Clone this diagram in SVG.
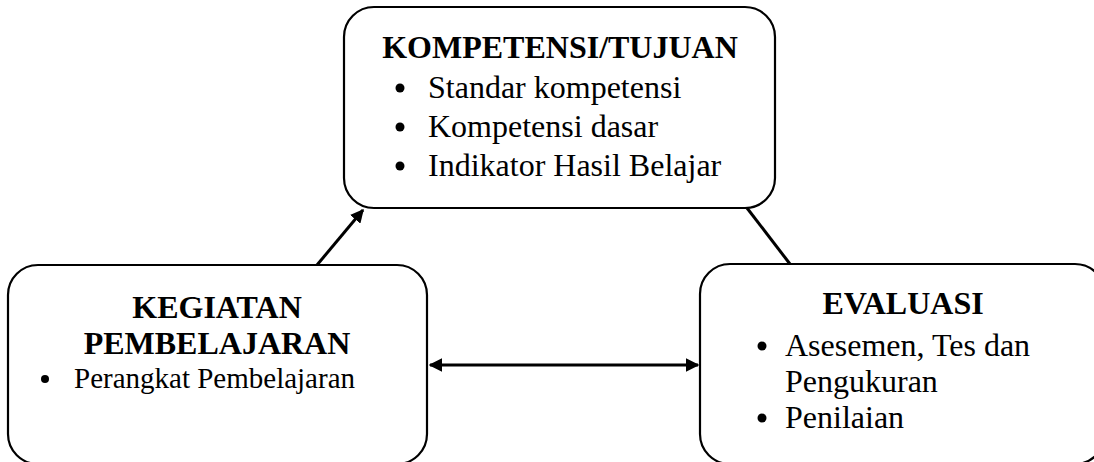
<svg xmlns="http://www.w3.org/2000/svg" width="1094" height="462" viewBox="0 0 1094 462">
<style>
.box{fill:#fff;stroke:#000;stroke-width:2.2}
.t{font-family:"Liberation Serif","Times New Roman",serif;fill:#000}
.h{font-weight:bold;font-size:32px}
.b{font-size:32px}
.s{font-size:29px}
.dot{fill:#000}
.con{stroke:#000;stroke-width:3;fill:none}
</style>
<defs>
<marker id="ah" viewBox="0 0 10 10" refX="9" refY="5" markerWidth="4.5" markerHeight="4.5" orient="auto-start-reverse" markerUnits="strokeWidth">
<path d="M0,0 L10,5 L0,10 z" fill="#000"/>
</marker>
</defs>
<g id="connectors">
<line class="con" x1="317" y1="265" x2="363" y2="210" marker-end="url(#ah)"/>
<line class="con" x1="790" y1="264" x2="747" y2="208"/>
<line class="con" x1="430" y1="365" x2="698" y2="365" marker-start="url(#ah)" marker-end="url(#ah)"/>
</g>
<g id="kompetensi">
<rect class="box" x="344" y="7" width="431" height="201" rx="30" ry="30"/>
<text class="t h" x="560" y="58" text-anchor="middle">KOMPETENSI/TUJUAN</text>
<circle class="dot" cx="400" cy="88" r="4.5"/><text class="t b" x="428" y="98">Standar kompetensi</text>
<circle class="dot" cx="400" cy="127" r="4.5"/><text class="t b" x="428" y="137">Kompetensi dasar</text>
<circle class="dot" cx="400" cy="166" r="4.5"/><text class="t b" x="428" y="176">Indikator Hasil Belajar</text>
</g>
<g id="kegiatan">
<rect class="box" x="8" y="265" width="419" height="199" rx="30" ry="30"/>
<text class="t h" x="217" y="318" text-anchor="middle">KEGIATAN</text>
<text class="t h" x="217" y="354" text-anchor="middle">PEMBELAJARAN</text>
<circle class="dot" cx="45" cy="379" r="4"/><text class="t s" x="74" y="388">Perangkat Pembelajaran</text>
</g>
<g id="evaluasi">
<rect class="box" x="700" y="264" width="405" height="200" rx="30" ry="30"/>
<text class="t h" x="903" y="314" text-anchor="middle">EVALUASI</text>
<circle class="dot" cx="762" cy="346" r="4.5"/><text class="t b" x="785" y="356">Asesemen, Tes dan</text>
<text class="t b" x="785" y="392">Pengukuran</text>
<circle class="dot" cx="762" cy="418" r="4.5"/><text class="t b" x="785" y="428">Penilaian</text>
</g>
</svg>
